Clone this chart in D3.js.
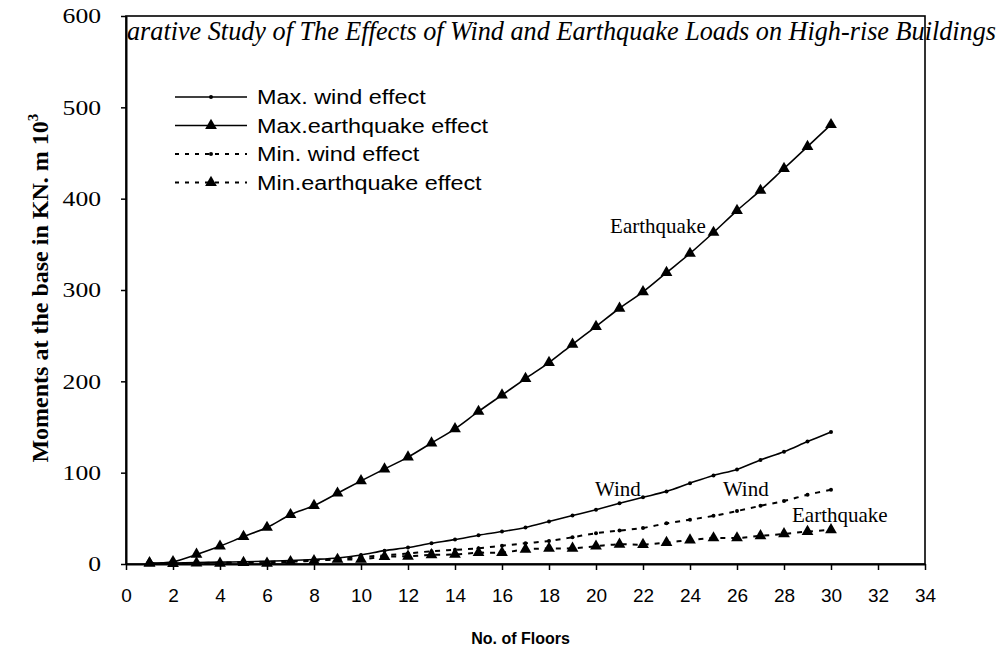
<!DOCTYPE html>
<html>
<head>
<meta charset="utf-8">
<title>Moments at the base</title>
<script src="https://d3js.org/d3.v7.min.js"></script>
<style>
body { margin: 0; padding: 0; background: #fff; }
svg { display: block; }
.serif { font-family: "Liberation Serif", "Times New Roman", serif; }
.sans { font-family: "Liberation Sans", Arial, sans-serif; }
</style>
</head>
<body>
<svg id="chart" width="1005" height="650"></svg>
<script>

// data (floor number -> moment, KN.m x10^3)
var floors = d3.range(1, 31);
var maxWind = [0.5, 1, 1.5, 2, 2.5, 3, 3.8, 5, 6.6, 9.9, 14.6, 18, 22.7, 26.7, 31.5,
               35.5, 40, 46.5, 53, 59.5, 66.5, 73, 79.5, 88.5, 97, 103.5, 114, 123, 134, 144.5];
var maxQuake = [1, 2.5, 10.5, 19.5, 30, 40, 54, 64, 77.5, 91, 104, 117, 132.5, 148, 167,
                185, 203, 220.5, 240.5, 260, 280, 298, 319, 340, 363, 387, 409, 433, 457, 481];
var minWind = [0.3, 0.6, 1, 1.5, 2, 2.5, 3, 4, 5.5, 7.5, 9.5, 11.5, 14, 15.5, 17.2,
               20, 22.7, 25.3, 29.3, 33.7, 36.6, 39.5, 44.5, 48.5, 52.7, 58, 63.7, 69, 75.8, 81.3];
var minQuake = [1, 0.3, 1, 0.8, 1.5, 0.8, 2.5, 3.5, 5, 5, 8, 8.5, 10, 10.5, 12.4,
                12.4, 16, 17, 17.2, 19.5, 21.6, 21.2, 23.4, 26.3, 28.5, 28.5, 30.8, 33, 35.5, 37.4];

var xTicks = d3.range(0, 35, 2);
var yTicks = [0, 100, 200, 300, 400, 500, 600];

var seriesNames = ["Max. wind effect", "Max.earthquake effect", "Min. wind effect", "Min.earthquake effect"];
var seriesValues = [maxWind, maxQuake, minWind, minQuake];
var seriesMarker = ["dot", "tri", "dot", "tri"];
var seriesDashed = [false, false, true, true];

var notes = [
  {text: "Earthquake", x: 20.6, y: 362},
  {text: "Wind", x: 19.96, y: 74},
  {text: "Wind", x: 25.4, y: 74},
  {text: "Earthquake", x: 28.34, y: 46}
];

// page header that runs over the chart; only this part shows
var title = "arative Study of The Effects of Wind and Earthquake Loads on High-rise Buildings";

var svg = d3.select("#chart");

var margin = {top: 16, right: 80, bottom: 86, left: 126};
var width = 1005 - margin.left - margin.right,
    height = 650 - margin.top - margin.bottom;

var x = d3.scaleLinear().domain([0, 34]).range([0, width]);
var y = d3.scaleLinear().domain([0, 600]).range([height, 0]);

svg.append("text")
  .attr("class", "serif")
  .attr("x", margin.left + 1).attr("y", 40)
  .attr("textLength", 996 - margin.left - 1)
  .attr("lengthAdjust", "spacingAndGlyphs")
  .style("font-style", "italic")
  .style("font-size", "27px")
  .text(title);

var g = svg.append("g").attr("transform", "translate(" + margin.left + "," + margin.top + ")");

// frame
g.append("rect")
  .attr("x", 0).attr("y", 0).attr("width", width).attr("height", height)
  .attr("fill", "none").attr("stroke", "#000").attr("stroke-width", 1.6);

// axes
var xAxis = g.append("g")
  .attr("transform", "translate(0," + height + ")")
  .call(d3.axisBottom(x).tickValues(xTicks).tickSize(6).tickSizeOuter(0).tickPadding(19));
xAxis.selectAll("text").attr("class", "sans").style("font-size", "19px").attr("fill", "#000");

var yAxis = g.append("g")
  .call(d3.axisLeft(y).tickValues(yTicks).tickSize(5).tickSizeOuter(0).tickPadding(20));
yAxis.selectAll("text").attr("class", "serif").style("font-size", "21px").attr("fill", "#000")
  .each(function() {
    var w = this.getComputedTextLength();
    d3.select(this).attr("textLength", w * 1.22).attr("lengthAdjust", "spacingAndGlyphs");
  });

svg.selectAll(".domain").attr("stroke-width", 2);
svg.selectAll(".tick line").attr("stroke-width", 1.5);

// axis titles
svg.append("text")
  .attr("class", "sans")
  .attr("x", margin.left + x(17) - 5).attr("y", 644)
  .attr("text-anchor", "middle")
  .style("font-size", "16px").style("font-weight", "bold")
  .text("No. of Floors");

var yl = svg.append("text")
  .attr("class", "serif")
  .attr("transform", "translate(48," + (margin.top + y(302)) + ") rotate(-90)")
  .attr("text-anchor", "middle")
  .style("font-size", "24px").style("font-weight", "bold");
yl.append("tspan").text("Moments at the base in KN. m 10");
yl.append("tspan").attr("dy", -10).style("font-size", "15px").text("3");

// series
var line = d3.line()
  .x(function(d, i) { return x(floors[i]); })
  .y(function(d) { return y(d); })
  .curve(d3.curveCatmullRom.alpha(0.5));

var tri = d3.symbol().type(d3.symbolTriangle).size(60);

seriesValues.forEach(function(vals, s) {
  g.append("path")
    .datum(vals)
    .attr("d", line)
    .attr("fill", "none")
    .attr("stroke", "#000")
    .attr("stroke-width", seriesDashed[s] ? 2 : 1.6)
    .attr("stroke-dasharray", seriesDashed[s] ? "5,6" : null);

  if (seriesMarker[s] === "tri") {
    g.selectAll(".tri" + s).data(vals).enter().append("path")
      .attr("d", tri)
      .attr("transform", function(d, i) { return "translate(" + x(floors[i]) + "," + y(d) + ")"; })
      .attr("fill", "#000");
  } else {
    g.selectAll(".dot" + s).data(vals).enter().append("circle")
      .attr("cx", function(d, i) { return x(floors[i]); })
      .attr("cy", function(d) { return y(d); })
      .attr("r", 2)
      .attr("fill", "#000");
  }
});

// annotations
g.selectAll(".note").data(notes).enter().append("text")
  .attr("class", "serif")
  .attr("x", function(d) { return x(d.x); })
  .attr("y", function(d) { return y(d.y); })
  .style("font-size", "21px")
  .text(function(d) { return d.text; });

// legend
var lg = svg.append("g").attr("transform", "translate(175,97)");
seriesNames.forEach(function(name, s) {
  var row = lg.append("g").attr("transform", "translate(0," + (s * 28.5) + ")");
  row.append("line")
    .attr("x1", 0).attr("x2", 72).attr("y1", 0).attr("y2", 0)
    .attr("stroke", "#000")
    .attr("stroke-width", seriesDashed[s] ? 2 : 1.6)
    .attr("stroke-dasharray", seriesDashed[s] ? "4,6" : null);
  if (seriesMarker[s] === "tri") {
    row.append("path").attr("d", tri).attr("transform", "translate(36,0)").attr("fill", "#000");
  } else {
    row.append("circle").attr("cx", 36).attr("cy", 0).attr("r", 2).attr("fill", "#000");
  }
  var t = row.append("text")
    .attr("class", "sans")
    .attr("x", 82).attr("y", 7)
    .style("font-size", "20px")
    .text(name);
  t.attr("textLength", t.node().getComputedTextLength() * 1.17).attr("lengthAdjust", "spacingAndGlyphs");
});

</script>
</body>
</html>
